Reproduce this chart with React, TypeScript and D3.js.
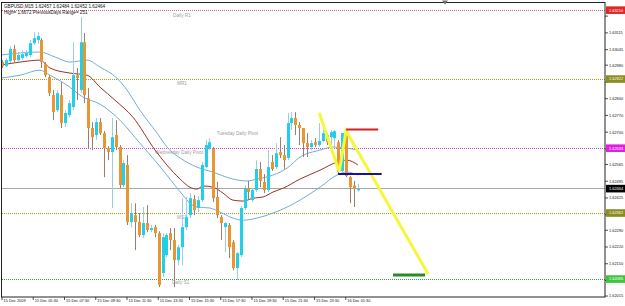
import React from 'react';
import * as d3 from 'd3';

const W = 625;
const H = 306;

const headerLine1 = 'GBPUSD,M15  1.62457 1.62484 1.62452 1.62464';
const headerLine2 = 'High= 1.6672   PreviousDays Range= 251';

const opens = [
  1.62993, 1.62976, 1.62997, 1.63047, 1.63001, 1.63010, 1.63018, 1.63022, 1.63072, 1.63085,
  1.63085, 1.62984, 1.62930, 1.62855, 1.62792, 1.62855, 1.62738, 1.62771, 1.62805, 1.62938,
  1.62876, 1.63076, 1.62842, 1.62717, 1.62688, 1.62742, 1.62696, 1.62633, 1.62617, 1.62688,
  1.62638, 1.62479, 1.62563, 1.62324, 1.62353, 1.62324, 1.62270, 1.62320, 1.62291, 1.62303,
  1.62278, 1.62111, 1.62186, 1.62278, 1.62249, 1.62165, 1.62219, 1.62303, 1.62353, 1.62420,
  1.62383, 1.62416, 1.62554, 1.62633, 1.62629, 1.62429, 1.62345, 1.62303, 1.62312, 1.62240,
  1.62132, 1.62186, 1.62383, 1.62466, 1.62416, 1.62458, 1.62546, 1.62492, 1.62458, 1.62575,
  1.62554, 1.62617, 1.62604, 1.62592, 1.62738, 1.62759, 1.62730, 1.62717, 1.62654, 1.62638,
  1.62658, 1.62646, 1.62663, 1.62688, 1.62679, 1.62675, 1.62658, 1.62538, 1.62700, 1.62512,
  1.62477, 1.62457,
];
const highs = [
  1.63001, 1.63010, 1.63060, 1.63064, 1.63035, 1.63043, 1.63043, 1.63085, 1.63118, 1.63118,
  1.63093, 1.62993, 1.62938, 1.62876, 1.62876, 1.62909, 1.62792, 1.62834, 1.63076, 1.62968,
  1.63181, 1.63114, 1.62884, 1.62742, 1.62759, 1.62759, 1.62704, 1.62642, 1.62759, 1.62750,
  1.62646, 1.62583, 1.62604, 1.62403, 1.62403, 1.62362, 1.62387, 1.62395, 1.62312, 1.62312,
  1.62286, 1.62278, 1.62278, 1.62299, 1.62299, 1.62228, 1.62424, 1.62429, 1.62445, 1.62437,
  1.62433, 1.62575, 1.62667, 1.62675, 1.62638, 1.62492, 1.62353, 1.62324, 1.62320, 1.62249,
  1.62199, 1.62391, 1.62477, 1.62496, 1.62466, 1.62583, 1.62575, 1.62525, 1.62625, 1.62604,
  1.62654, 1.62679, 1.62646, 1.62780, 1.62784, 1.62784, 1.62742, 1.62717, 1.62696, 1.62667,
  1.62675, 1.62738, 1.62738, 1.62696, 1.62709, 1.62709, 1.62667, 1.62696, 1.62709, 1.62517,
  1.62496, 1.62484,
];
const lows = [
  1.62968, 1.62972, 1.62989, 1.62993, 1.62993, 1.63001, 1.63010, 1.63014, 1.63064, 1.63068,
  1.62968, 1.62930, 1.62851, 1.62750, 1.62784, 1.62717, 1.62721, 1.62763, 1.62792, 1.62834,
  1.62863, 1.62821, 1.62633, 1.62625, 1.62667, 1.62688, 1.62512, 1.62583, 1.62383, 1.62625,
  1.62466, 1.62470, 1.62312, 1.62303, 1.62207, 1.62261, 1.62257, 1.62282, 1.62282, 1.62261,
  1.62052, 1.62094, 1.62178, 1.62207, 1.62052, 1.62144, 1.62144, 1.62291, 1.62341, 1.62353,
  1.62366, 1.62408, 1.62550, 1.62625, 1.62408, 1.62341, 1.62249, 1.62199, 1.62174, 1.62123,
  1.62082, 1.62178, 1.62374, 1.62416, 1.62408, 1.62450, 1.62470, 1.62445, 1.62450, 1.62538,
  1.62546, 1.62592, 1.62546, 1.62583, 1.62709, 1.62688, 1.62646, 1.62596, 1.62596, 1.62625,
  1.62638, 1.62638, 1.62658, 1.62646, 1.62646, 1.62638, 1.62525, 1.62533, 1.62512, 1.62403,
  1.62387, 1.62452,
];
const closes = [
  1.62976, 1.63001, 1.63047, 1.63001, 1.63022, 1.63026, 1.63031, 1.63072, 1.63093, 1.63102,
  1.62993, 1.62938, 1.62863, 1.62784, 1.62863, 1.62738, 1.62780, 1.62821, 1.62938, 1.62926,
  1.63076, 1.62855, 1.62717, 1.62679, 1.62742, 1.62696, 1.62633, 1.62617, 1.62679, 1.62638,
  1.62479, 1.62571, 1.62324, 1.62362, 1.62324, 1.62270, 1.62320, 1.62291, 1.62299, 1.62278,
  1.62061, 1.62261, 1.62270, 1.62249, 1.62165, 1.62219, 1.62303, 1.62345, 1.62424, 1.62374,
  1.62416, 1.62563, 1.62646, 1.62658, 1.62424, 1.62353, 1.62320, 1.62320, 1.62219, 1.62132,
  1.62194, 1.62383, 1.62466, 1.62450, 1.62458, 1.62546, 1.62496, 1.62458, 1.62554, 1.62546,
  1.62612, 1.62604, 1.62583, 1.62738, 1.62759, 1.62730, 1.62717, 1.62654, 1.62638, 1.62654,
  1.62646, 1.62663, 1.62696, 1.62658, 1.62700, 1.62704, 1.62533, 1.62696, 1.62517, 1.62470,
  1.62462, 1.62464,
];

// indicator lines: [bar index, price]
const upperBand: [number, number][] = [
  [-0.6, 1.63022], [4.5, 1.63031], [9.6, 1.63035], [13.5, 1.63014], [17.3, 1.62993], [21.7, 1.63001],
  [25, 1.62972], [29.3, 1.62926], [31.9, 1.62876], [35.2, 1.62792], [39.6, 1.62696], [42.4, 1.62633],
  [45.5, 1.62592], [49.8, 1.62554], [53.9, 1.62533], [59, 1.62504], [62.6, 1.62496], [65.2, 1.62504],
  [69.3, 1.62521], [72.9, 1.62550], [76.2, 1.62596], [81.3, 1.62625], [84.6, 1.62638], [88.2, 1.62633],
  [91, 1.62625],
];
const middleMA: [number, number][] = [
  [-0.6, 1.62980], [4.5, 1.62993], [9.6, 1.63001], [12.2, 1.62968], [17.3, 1.62947], [21.7, 1.62938],
  [25, 1.62888], [28.8, 1.62834], [33.4, 1.62763], [39.1, 1.62625], [42.1, 1.62563], [45.5, 1.62504],
  [48, 1.62470], [49.8, 1.62462], [51.4, 1.62475], [53.9, 1.62470], [56.5, 1.62445], [59, 1.62416],
  [61.6, 1.62412], [64.2, 1.62424], [66.7, 1.62429], [69.3, 1.62450], [71.9, 1.62466], [76.2, 1.62504],
  [81.3, 1.62541], [85.7, 1.62575], [88.2, 1.62583], [91, 1.62563],
];
const lowerBand: [number, number][] = [
  [-0.6, 1.62926], [4.5, 1.62938], [9.6, 1.62959], [12.2, 1.62938], [16.5, 1.62897], [20.6, 1.62847],
  [25, 1.62817], [30.1, 1.62750], [35.2, 1.62654], [39.6, 1.62571], [42.9, 1.62504], [46.2, 1.62437],
  [48, 1.62403], [49.8, 1.62387], [53.1, 1.62383], [55.7, 1.62366], [59, 1.62341], [61.6, 1.62332],
  [65.2, 1.62341], [69.3, 1.62362], [72.9, 1.62387], [76.2, 1.62416], [81.3, 1.62470], [85.7, 1.62521],
  [88.2, 1.62533], [91, 1.62521],
];

// drawn objects
const zigzag: [number, number][] = [[81.1, 1.62781], [86.25, 1.62534], [87.97, 1.62706], [109.0, 1.62107]];
const redSegment: [number, number][] = [[88, 1.62711], [96.2, 1.62711]];
const blueSegment: [number, number][] = [[85.9, 1.62525], [97.1, 1.62525]];
const greenSegment: [number, number][] = [[100, 1.62103], [108.2, 1.62103]];

const timeLabels = [
  '15 Dec 2009', '15 Dec 05:30', '15 Dec 07:30', '15 Dec 09:30', '15 Dec 11:30', '15 Dec 13:30',
  '15 Dec 15:30', '15 Dec 17:30', '15 Dec 19:30', '15 Dec 21:30', '15 Dec 23:30', '16 Dec 01:30',
];
const barsPerLabel = 8;

const priceTicks = [
  '1.63185', '1.63115', '1.63045', '1.62980', '1.62910', '1.62840', '1.62770', '1.62700', '1.62630',
  '1.62565', '1.62495', '1.62425', '1.62355', '1.62290', '1.62220', '1.62150', '1.62080', '1.62015',
];

// horizontal levels: R1, MR1, pivot, MS1, S1
const levelPrices = [1.63210, 1.62922, 1.62633, 1.62362, 1.62086];
const levelLabels = ['1.63210', '1.62922', '1.62633', '1.62362', '1.62086'];
const currentPrice = 1.62464;

const noteTexts = ['Daily R1', 'MR1', 'Tuesday  Daily Pivot', 'Wednesday  Daily Pivot', 'MS1', 'Daily S1'];
const noteBars = [43.7, 44.7, 54.9, 39.1, 44.7, 43.4];
const notePrices = [1.63181, 1.62897, 1.62688, 1.62609, 1.62337, 1.62065];

const FONT = '"Liberation Sans", Arial, sans-serif';

export default function App() {
  const left = 1.5;
  const top = 2.5;
  const right = 605;
  const bottom = 297;

  const x = d3.scaleLinear().domain([0, 91]).range([2.4, 2.4 + 91 * 3.906]);
  const y = d3.scaleLinear().domain([1.62011, 1.63242]).range([bottom, top]);

  const line = d3
    .line<[number, number]>()
    .x((d) => x(d[0]))
    .y((d) => y(d[1]))
    .curve(d3.curveMonotoneX);
  const straight = d3
    .line<[number, number]>()
    .x((d) => x(d[0]))
    .y((d) => y(d[1]));

  const levelColors = ['#e0609a', '#a0a020', '#d44ad4', '#a0a020', '#3c9a50'];
  const levelBg = ['#e02828', '#8c8c20', '#e020e0', '#8c8c20', '#3cc43c'];

  const boxYs = [...levelPrices, currentPrice].map((p) => y(p));
  const visibleTicks = priceTicks.filter((t) => boxYs.every((by) => Math.abs(y(+t) - by) > 6.5));

  return (
    <svg
      width={W}
      height={H}
      style={{ position: 'absolute', left: 0, top: 0, background: '#fff' }}
      fontFamily={FONT}
    >
      <defs>
        <clipPath id="plot">
          <rect x={left} y={top} width={right - left} height={bottom - top} />
        </clipPath>
      </defs>
      <rect x={0} y={0} width={W} height={H} fill="#fff" />

      <g clipPath="url(#plot)">
        {/* level lines */}
        {levelPrices.map((p, k) => (
          <line
            key={'lv' + k}
            x1={left}
            x2={right}
            y1={Math.round(y(p)) + 0.5}
            y2={Math.round(y(p)) + 0.5}
            stroke={levelColors[k]}
            strokeWidth={1}
            strokeDasharray="1,1"
            shapeRendering="crispEdges"
          />
        ))}
        <line
          x1={left}
          x2={right}
          y1={Math.round(y(currentPrice)) - 0.5}
          y2={Math.round(y(currentPrice)) - 0.5}
          stroke="#a8a8a8"
          strokeWidth={1}
        />

        {/* notes */}
        {noteTexts.map((t, k) => (
          <text key={'nt' + k} x={x(noteBars[k])} y={y(notePrices[k])} fontSize={4.7} fill="#a0a0a0">
            {t}
          </text>
        ))}

        {/* bands */}
        <path d={line(upperBand) || ''} fill="none" stroke="#74aecd" strokeWidth={1} />
        <path d={line(lowerBand) || ''} fill="none" stroke="#74aecd" strokeWidth={1} />
        <path d={line(middleMA) || ''} fill="none" stroke="#9a3226" strokeWidth={1} />

        {/* candles */}
        {opens.map((o, i) => {
          const c = closes[i];
          const bull = c >= o;
          const cx = Math.round(x(i)) + 0.5;
          const yTop = y(Math.max(o, c));
          const yBot = y(Math.min(o, c));
          return (
            <g key={'c' + i}>
              <line
                x1={cx}
                x2={cx}
                y1={y(highs[i])}
                y2={y(lows[i])}
                stroke={bull ? '#9ccde2' : '#a07c70'}
                strokeWidth={1}
              />
              <rect
                x={cx - 1.5}
                y={yTop}
                width={3}
                height={Math.max(1, yBot - yTop)}
                fill={bull ? '#22cfea' : '#e8962f'}
              />
            </g>
          );
        })}

        {/* drawn objects */}
        <path d={straight(zigzag) || ''} fill="none" stroke="#f6f63a" strokeWidth={3} strokeLinejoin="miter" />
        <path d={straight(redSegment) || ''} fill="none" stroke="#d42020" strokeWidth={2} />
        <path d={straight(blueSegment) || ''} fill="none" stroke="#1212a8" strokeWidth={2} />
        <path d={straight(greenSegment) || ''} fill="none" stroke="#2a8a2a" strokeWidth={3} />
      </g>

      {/* header */}
      <text x={4} y={7.6} fontSize={4.6} fill="#111">
        {headerLine1}
      </text>
      <text x={4} y={13.6} fontSize={4.6} fill="#111">
        {headerLine2}
      </text>

      {/* frame */}
      <rect x={left} y={top} width={right - left} height={bottom - top} fill="none" stroke="#222" strokeWidth={1} />
      <polygon points="442,0.5 448,0.5 445,4.5" fill="#707070" />

      {/* right axis */}
      {priceTicks.map((t, k) => {
        const yy = y(+t);
        return <line key={'ptk' + k} x1={right} x2={right + 3} y1={yy} y2={yy} stroke="#222" strokeWidth={0.8} />;
      })}
      {visibleTicks.map((t, k) => {
        const yy = y(+t);
        return (
          <text key={'pt' + k} x={right + 4} y={yy + 1.4} fontSize={3.9} fill="#111">
            {t}
          </text>
        );
      })}
      {levelPrices.map((p, k) => {
        const yy = y(p);
        return (
          <g key={'lb' + k}>
            <rect x={right + 1} y={yy - 3.8} width={W - right - 1} height={7.6} fill={levelBg[k]} />
            <text x={right + 4} y={yy + 1.4} fontSize={3.9} fill="#fff">
              {levelLabels[k]}
            </text>
          </g>
        );
      })}
      <g>
        <rect x={right + 1} y={y(currentPrice) - 3.8} width={W - right - 1} height={7.6} fill="#000" />
        <text x={right + 4} y={y(currentPrice) + 1.4} fontSize={3.9} fill="#fff">
          {currentPrice.toFixed(5)}
        </text>
      </g>

      {/* bottom axis */}
      {timeLabels.map((t, k) => {
        const xx = x(k * barsPerLabel) - 0.4;
        return (
          <g key={'tl' + k}>
            <line x1={xx} x2={xx} y1={bottom} y2={bottom + 3} stroke="#222" strokeWidth={0.8} />
            <text x={xx + 1.5} y={bottom + 5.2} fontSize={3.9} fill="#111">
              {t}
            </text>
          </g>
        );
      })}
    </svg>
  );
}
